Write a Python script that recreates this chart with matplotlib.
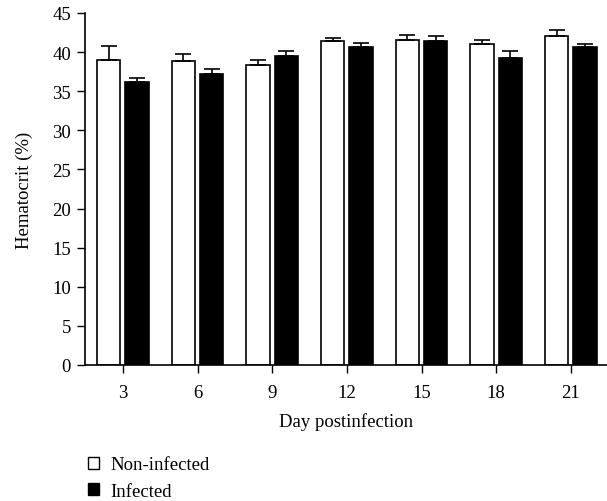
import matplotlib
matplotlib.use("Agg")
import matplotlib.pyplot as plt
from matplotlib.patches import Patch
import numpy as np

days = [3, 6, 9, 12, 15, 18, 21]
non_infected = [39.0, 38.8, 38.3, 41.4, 41.6, 41.1, 42.0]
non_infected_err = [1.8, 0.9, 0.7, 0.4, 0.6, 0.5, 0.8]
infected = [36.2, 37.2, 39.5, 40.6, 41.45, 39.2, 40.7]
infected_err = [0.5, 0.6, 0.7, 0.6, 0.55, 0.9, 0.4]
yticks = [0, 5, 10, 15, 20, 25, 30, 35, 40, 45]
labels = ["Non-infected", "Infected"]

plt.rcParams['font.family'] = ['Liberation Serif', 'DejaVu Serif']

fig = plt.figure(figsize=(6.07, 5.02), dpi=100)
ax = fig.add_axes([85/607, 1 - 366/502, 1 - 85/607, (366 - 14)/502])

x = np.array(days, dtype=float)
w = 0.94
off = 0.57
ekw = dict(ecolor='black', elinewidth=1.2, capsize=5.6, capthick=1.2)
ax.bar(x - off, non_infected, width=w, color='white', edgecolor='black', linewidth=1.2,
       yerr=[np.zeros(len(days)), non_infected_err], error_kw=ekw)
ax.bar(x + off, infected, width=w, color='black', edgecolor='black', linewidth=1.2,
       yerr=[np.zeros(len(days)), infected_err], error_kw=ekw)

fs = 13.5
ax.set_xlim(1.48, 22.45)
ax.set_ylim(0, 45)
ax.set_xticks(days)
ax.set_xticklabels([str(d) for d in days])
ax.set_yticks(yticks)
ax.tick_params(direction='out', length=6, width=1, labelsize=fs, pad=4)
ax.tick_params(axis='x', pad=8)
for s in ['top', 'right']:
    ax.spines[s].set_visible(False)
for s in ['left', 'bottom']:
    ax.spines[s].set_linewidth(1.2)
ax.set_xlabel("Day postinfection", fontsize=fs, labelpad=8)
ax.set_ylabel("Hematocrit (%)", fontsize=fs)
ax.yaxis.set_label_coords(-(85 - 33) / 522, 0.5)

handles = [Patch(facecolor='white', edgecolor='black', linewidth=1),
           Patch(facecolor='black', edgecolor='black', linewidth=1)]
fig.legend(handles, labels, loc='upper left', bbox_to_anchor=(80/607, 1 - 450/502),
           frameon=False, fontsize=fs, handlelength=0.62, handleheight=0.62,
           handletextpad=0.6, labelspacing=0.5, borderaxespad=0)

fig.savefig("out.png", dpi=100)
